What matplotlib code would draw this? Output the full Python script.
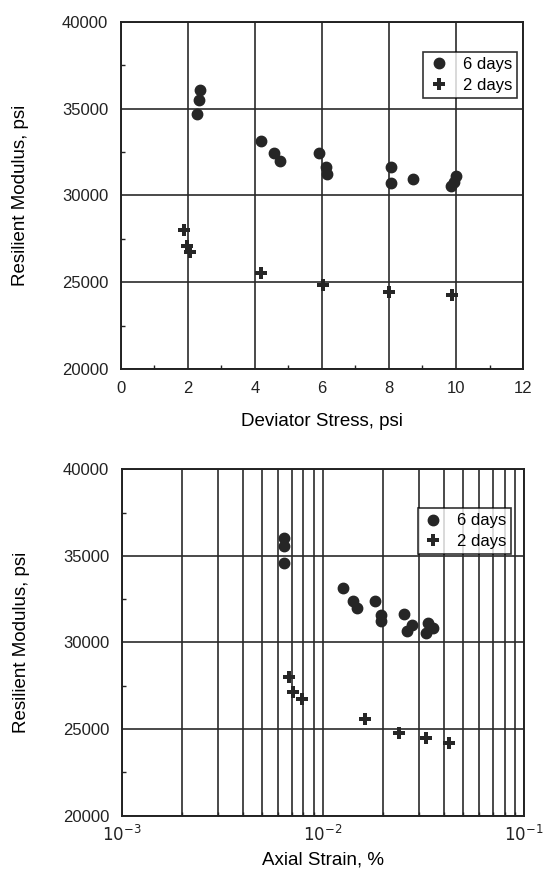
import numpy as np
import matplotlib.pyplot as plt
from matplotlib.ticker import MultipleLocator, LogLocator, FixedLocator

plt.rcParams['font.family'] = ['Liberation Sans', 'DejaVu Sans']

# Top panel: resilient modulus vs deviator stress
stress_6d = [2.37, 2.32, 2.27, 4.19, 4.56, 4.76, 5.91, 6.11, 6.16, 8.07, 8.07, 8.73, 9.99, 9.94, 9.86]
mr_6d_top = [36100, 35520, 34700, 33160, 32450, 31970, 32450, 31640, 31240, 31640, 30720, 30970, 31100, 30800, 30530]
stress_2d = [1.90, 1.97, 2.07, 4.18, 6.04, 8.00, 9.89]
mr_2d_top = [27990, 27070, 26720, 25530, 24840, 24460, 24270]

# Bottom panel: resilient modulus vs axial strain
strain_6d = [6.43e-3, 6.43e-3, 6.43e-3, 1.255e-2, 1.418e-2, 1.473e-2, 1.816e-2, 1.946e-2, 1.946e-2,
             2.53e-2, 2.765e-2, 2.61e-2, 3.35e-2, 3.26e-2, 3.54e-2]
mr_6d_bot = [36015, 35570, 34610, 33170, 32420, 31970, 32420, 31590, 31240,
             31630, 31010, 30680, 31110, 30570, 30820]
strain_2d = [6.82e-3, 7.08e-3, 7.85e-3, 1.62e-2, 2.40e-2, 3.24e-2, 4.25e-2]
mr_2d_bot = [27990, 27120, 26740, 25560, 24790, 24470, 24220]

ink = '#262626'
grid_kw = dict(color='#2a2a2a', linewidth=1.2)
leg_kw = dict(loc='upper right', fontsize=12, frameon=True, fancybox=False, edgecolor='black',
              borderpad=0.3, handletextpad=0.75, handlelength=1.3, labelspacing=0.33, borderaxespad=0)

fig = plt.figure(figsize=(5.5, 8.69), dpi=100)
ax1 = fig.add_axes([0.2195, 0.5754, 0.7315, 0.3993])
ax2 = fig.add_axes([0.2213, 0.0613, 0.7315, 0.3987])

# --- top ---
ax1.plot(stress_6d, mr_6d_top, 'o', color=ink, markersize=7.5, label='6 days', zorder=3)
ax1.plot(stress_2d, mr_2d_top, 'P', color=ink, markersize=9, markeredgewidth=0, label='2 days', zorder=3)
ax1.set_xlim(0, 12)
ax1.set_ylim(20000, 40000)
ax1.xaxis.set_major_locator(MultipleLocator(2))
ax1.xaxis.set_minor_locator(MultipleLocator(1))
ax1.yaxis.set_major_locator(MultipleLocator(5000))
ax1.yaxis.set_minor_locator(MultipleLocator(2500))
ax1.grid(True, which='major', **grid_kw)
ax1.set_xlabel('Deviator Stress, psi', fontsize=13.5)
ax1.xaxis.set_label_coords(0.5, -0.128)
ax1.legend(bbox_to_anchor=(0.985, 0.913), **leg_kw)

# --- bottom ---
ax2.semilogx(strain_6d, mr_6d_bot, 'o', color=ink, markersize=7.5, label='6 days', zorder=3)
ax2.semilogx(strain_2d, mr_2d_bot, 'P', color=ink, markersize=9, markeredgewidth=0, label='2 days', zorder=3)
ax2.set_xlim(1e-3, 1e-1)
ax2.set_ylim(20000, 40000)
ax2.xaxis.set_major_locator(FixedLocator([1e-3, 1e-2, 1e-1]))
ax2.xaxis.set_minor_locator(LogLocator(base=10, subs=np.arange(2, 10)))
ax2.set_xticklabels([r'$10^{-3}$', r'$10^{-2}$', r'$10^{-1}$'])
ax2.yaxis.set_major_locator(MultipleLocator(5000))
ax2.yaxis.set_minor_locator(MultipleLocator(2500))
ax2.grid(True, which='both', axis='x', **grid_kw)
ax2.grid(True, which='major', axis='y', **grid_kw)
ax2.set_xlabel('Axial Strain, %', fontsize=13.5)
ax2.xaxis.set_label_coords(0.5, -0.102)
ax2.legend(bbox_to_anchor=(0.968, 0.887), **leg_kw)

for ax in (ax1, ax2):
    ax.set_ylabel('Resilient Modulus, psi', fontsize=13.5)
    ax.yaxis.set_label_coords(-0.228, 0.5)
    ax.tick_params(which='both', direction='in', top=False, right=False, labelsize=12, colors='#222222')
    ax.tick_params(which='major', length=0, pad=9)
    ax.tick_params(which='minor', length=3, width=1.0)
    for s in ax.spines.values():
        s.set_linewidth(1.4)
        s.set_color('#222222')
    ax.legend_.get_frame().set_linewidth(1.2)
ax2.tick_params(axis='x', which='major', pad=6)

fig.savefig('out.png', dpi=100)
